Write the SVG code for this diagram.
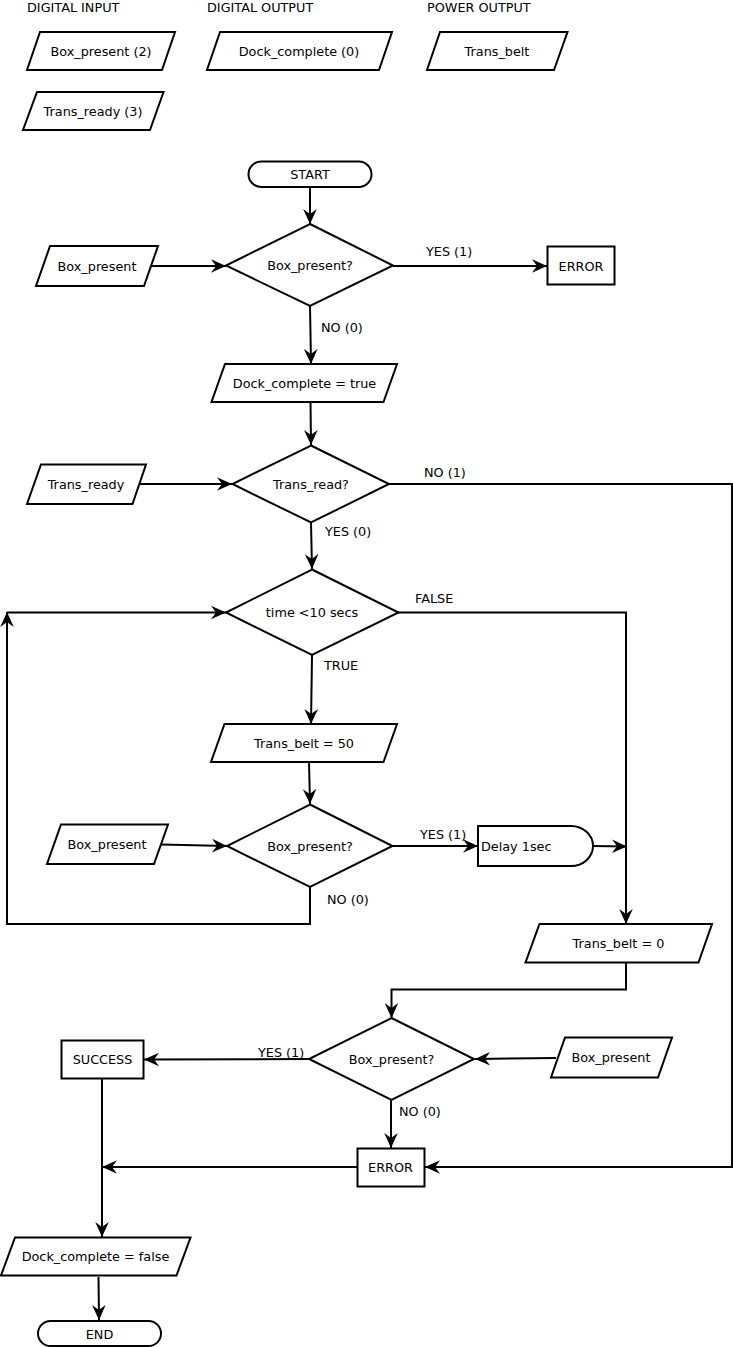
<svg xmlns="http://www.w3.org/2000/svg" width="733" height="1347" viewBox="0 0 733 1347">
<style>
  .s{fill:#fff;stroke:#000;stroke-width:2;stroke-linejoin:miter}
  .c{fill:none;stroke:#000;stroke-width:2}
  .a{marker-end:url(#ah)}
  text{font-family:"DejaVu Sans","Liberation Sans",sans-serif;font-size:12.8px;fill:#000}
  .m{text-anchor:middle}
</style>
<defs>
  <marker id="ah" markerUnits="userSpaceOnUse" viewBox="-16 -8 17 16" refX="0" refY="0" markerWidth="17" markerHeight="16" orient="auto">
    <path d="M0,0 L-15,-6.8 L-10,0 L-15,6.8 Z" fill="#000"/>
  </marker>
</defs>
<rect width="733" height="1347" fill="#fff"/>

<g id="legend">
  <text x="27" y="12">DIGITAL INPUT</text>
  <text x="207" y="12">DIGITAL OUTPUT</text>
  <text x="427" y="12">POWER OUTPUT</text>
</g>
<g id="leg_box_present"><polygon class="s" points="40,32 175,32 162,70 27,70"/><text class="m" x="101" y="55.5">Box_present (2)</text></g>
<g id="leg_trans_ready"><polygon class="s" points="37,92 163.5,92 150,130 23,130"/><text class="m" x="93" y="115.5">Trans_ready (3)</text></g>
<g id="leg_dock_complete"><polygon class="s" points="220,32 392,32 379,70 207,70"/><text class="m" x="299" y="55.5">Dock_complete (0)</text></g>
<g id="leg_trans_belt"><polygon class="s" points="440,32 567.5,32 554,70 427,70"/><text class="m" x="497" y="55.5">Trans_belt</text></g>

<g id="connectors">
  <line class="c a" x1="310" y1="187" x2="310" y2="224"/>
  <line class="c a" x1="151" y1="266" x2="226" y2="266"/>
  <line class="c a" x1="393" y1="266" x2="547" y2="266"/>
  <line class="c a" x1="310" y1="306" x2="311" y2="364"/>
  <line class="c a" x1="310.5" y1="402" x2="311" y2="445"/>
  <line class="c a" x1="139" y1="484" x2="232" y2="484"/>
  <polyline class="c a" points="389,484 732,484 732,1167 425,1167"/>
  <line class="c a" x1="311" y1="523" x2="312" y2="569"/>
  <polyline class="c a" points="398,612.5 626,612.5 626,924"/>
  <line class="c a" x1="312" y1="655" x2="311" y2="724"/>
  <line class="c a" x1="309" y1="762" x2="310" y2="804"/>
  <line class="c a" x1="161" y1="844.5" x2="227" y2="846"/>
  <line class="c a" x1="392" y1="846" x2="478" y2="846"/>
  <line class="c a" x1="593" y1="846" x2="627" y2="846.5"/>
  <polyline class="c a" points="310,887 310,924 7,924 7,612"/>
  <line class="c a" x1="7" y1="612.5" x2="226" y2="612.5"/>
  <polyline class="c a" points="626,962 626,989.5 391.5,989.5 391.5,1018"/>
  <line class="c a" x1="556" y1="1058" x2="475" y2="1059"/>
  <line class="c a" x1="309" y1="1059" x2="144" y2="1059.5"/>
  <line class="c a" x1="391" y1="1100" x2="391" y2="1148"/>
  <line class="c a" x1="357" y1="1167" x2="102" y2="1167"/>
  <line class="c a" x1="102" y1="1078" x2="102" y2="1237"/>
  <line class="c a" x1="98.5" y1="1277" x2="99" y2="1320"/>
  <text x="426" y="256">YES (1)</text>
  <text x="321" y="332">NO (0)</text>
  <text x="424" y="477">NO (1)</text>
  <text x="325" y="536">YES (0)</text>
  <text x="415" y="603">FALSE</text>
  <text x="324" y="670">TRUE</text>
  <text x="420" y="839">YES (1)</text>
  <text x="327" y="904">NO (0)</text>
  <text x="258" y="1057">YES (1)</text>
  <text x="399" y="1116">NO (0)</text>
</g>

<g id="start"><rect class="s" x="248.5" y="161.5" width="123" height="25.5" rx="12.75"/><text class="m" x="310" y="178.5">START</text></g>
<g id="in_box_present_1"><polygon class="s" points="50,246 158,246 144,286 36,286"/><text class="m" x="97" y="270.5">Box_present</text></g>
<g id="dec_box_present_1"><polygon class="s" points="310,224 393,265.5 310,306 226,265.5"/><text class="m" x="310" y="270">Box_present?</text></g>
<g id="error_1"><rect class="s" x="547.5" y="246.5" width="67" height="38"/><text class="m" x="581" y="270.5">ERROR</text></g>
<g id="dock_true"><polygon class="s" points="225,364 397,364 383.5,402 211.5,402"/><text class="m" x="304.5" y="387.5">Dock_complete = true</text></g>
<g id="in_trans_ready"><polygon class="s" points="41,464.5 146,464.5 132.5,504 27,504"/><text class="m" x="86" y="488.5">Trans_ready</text></g>
<g id="dec_trans_read"><polygon class="s" points="311,445.5 389,484 311,522.5 232.5,484"/><text class="m" x="311" y="488.5">Trans_read?</text></g>
<g id="dec_time"><polygon class="s" points="312,569.5 398.5,612.5 312,655 226,612.5"/><text class="m" x="312" y="617">time &lt;10 secs</text></g>
<g id="belt_50"><polygon class="s" points="224.5,724 397,724 383.5,762 211,762"/><text class="m" x="304" y="747.5">Trans_belt = 50</text></g>
<g id="in_box_present_2"><polygon class="s" points="61,824.5 168,824.5 154,864 47,864"/><text class="m" x="107" y="848.5">Box_present</text></g>
<g id="dec_box_present_2"><polygon class="s" points="310,804.5 392.5,846 310,887 227,846"/><text class="m" x="310" y="850.5">Box_present?</text></g>
<g id="delay"><path class="s" d="M478,826 H571 A22,20 0 0 1 571,866 H478 Z"/><text x="481" y="850.5">Delay 1sec</text></g>
<g id="belt_0"><polygon class="s" points="539.5,924 712,924 698.5,962.5 525.5,962.5"/><text class="m" x="618.5" y="947.5">Trans_belt = 0</text></g>
<g id="dec_box_present_3"><polygon class="s" points="391.5,1018 474,1059 391.5,1100 309,1059"/><text class="m" x="391.5" y="1063.5">Box_present?</text></g>
<g id="in_box_present_3"><polygon class="s" points="565,1037.5 672,1037.5 658,1077.5 551,1077.5"/><text class="m" x="611" y="1061.5">Box_present</text></g>
<g id="success"><rect class="s" x="61.5" y="1040.5" width="82" height="38"/><text class="m" x="102.5" y="1063.5">SUCCESS</text></g>
<g id="error_2"><rect class="s" x="357.5" y="1148.5" width="67" height="38"/><text class="m" x="390.5" y="1171.5">ERROR</text></g>
<g id="dock_false"><polygon class="s" points="15,1237.5 190.5,1237.5 176.5,1275.5 1,1275.5"/><text class="m" x="95.5" y="1260.5">Dock_complete = false</text></g>
<g id="end"><rect class="s" x="38" y="1321" width="123" height="25" rx="12.5"/><text class="m" x="99.5" y="1338.5">END</text></g>
</svg>
